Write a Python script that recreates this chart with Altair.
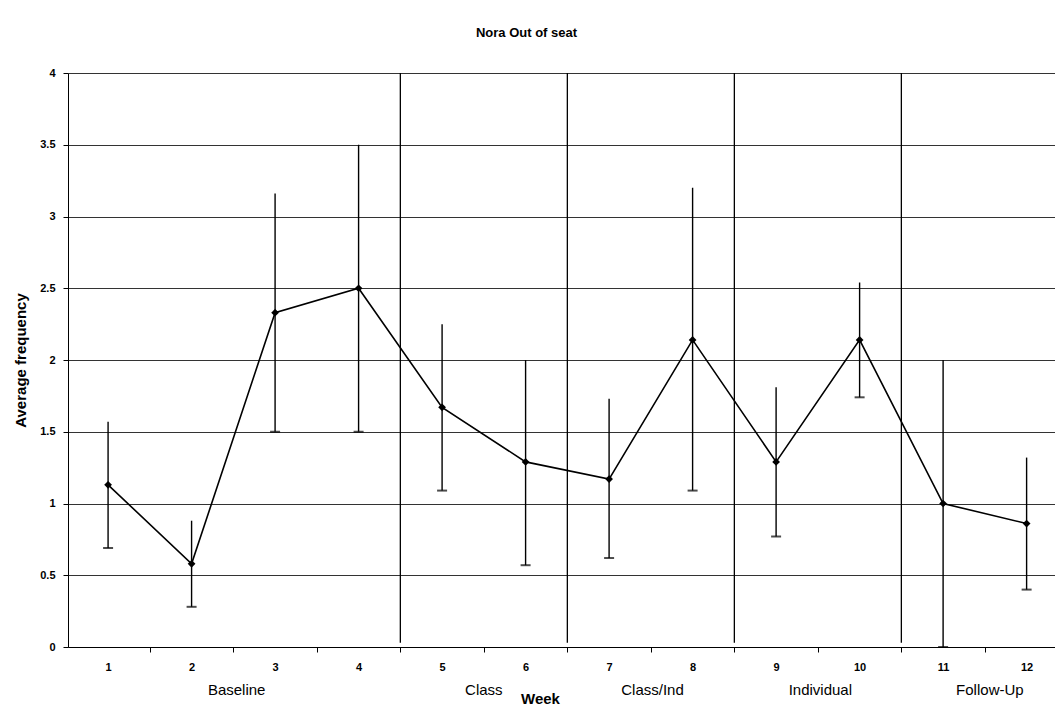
import altair as alt
import pandas as pd

weeks = list(range(1, 13))
means = [1.13, 0.58, 2.33, 2.5, 1.67, 1.29, 1.17, 2.14, 1.29, 2.14, 1.0, 0.86]
upper = [1.57, 0.88, 3.16, 3.5, 2.25, 2.0, 1.73, 3.2, 1.81, 2.54, 2.0, 1.32]
lower = [0.69, 0.28, 1.5, 1.5, 1.09, 0.57, 0.62, 1.09, 0.77, 1.74, 0.0, 0.40]
phase_names = ["Baseline", "Class", "Class/Ind", "Individual", "Follow-Up"]
phase_centers = [2.54, 5.5, 7.52, 9.53, 11.56]
phase_bounds = [4.5, 6.5, 8.5, 10.5]
x_values = [v / 2 for v in range(2, 25)]
y_values = [v / 2 for v in range(0, 9)]

df = pd.DataFrame({"week": weeks, "mean": means, "upper": upper, "lower": lower})
phases = pd.DataFrame({"name": phase_names, "x": phase_centers})
bounds = pd.DataFrame({"x": phase_bounds, "top": [4.0] * 4, "bottom": [0.03] * 4})

W, H = 987, 574
FONT = "Liberation Sans"

xscale = alt.Scale(domain=[0.52, 12.34], nice=False, zero=False)
yscale = alt.Scale(domain=[0, 4], nice=False)

xaxis = alt.Axis(
    values=x_values,
    labelExpr="datum.value % 1 == 0 ? format(datum.value, 'd') : ''",
    tickOpacity={"expr": "datum.value % 1 == 0 ? 0 : 1"},
    grid=False, domainColor="black", tickColor="black", tickSize=5,
    labelFont=FONT, labelFontSize=11, labelFontWeight="bold",
    labelColor="black", labelPadding=9,
    labelFlush=False, labelOverlap=False,
    title="Week", titleFont=FONT, titleFontSize=15, titleFontWeight="bold",
    titleColor="black", titleX=472, titleY=56, titleBaseline="alphabetic",
    titleAlign="center",
)
yaxis = alt.Axis(
    values=y_values, format="~g",
    grid=True, gridColor="black", gridWidth=1, gridOpacity=0.8,
    domainColor="black", tickColor="black", tickSize=5,
    labelFont=FONT, labelFontSize=11, labelFontWeight="bold",
    labelColor="black", labelPadding=8,
    title="Average frequency", titleFont=FONT, titleFontSize=15,
    titleFontWeight="bold", titleColor="black", titlePadding=11,
)

base = alt.Chart(df)

lines_phase = alt.Chart(bounds).mark_rule(color="black", strokeWidth=1.3).encode(
    x=alt.X("x:Q", scale=xscale, axis=xaxis),
    y=alt.Y("top:Q", scale=yscale, axis=yaxis),
    y2="bottom:Q",
)

err = base.mark_rule(color="black", strokeWidth=1.4).encode(
    x=alt.X("week:Q", scale=xscale),
    y=alt.Y("upper:Q", scale=yscale),
    y2="lower:Q",
)
cap = base.mark_tick(color="black", orient="horizontal", size=10, thickness=2).encode(
    x=alt.X("week:Q", scale=xscale),
    y=alt.Y("lower:Q", scale=yscale),
)
line = base.mark_line(color="black", strokeWidth=1.6).encode(
    x=alt.X("week:Q", scale=xscale),
    y=alt.Y("mean:Q", scale=yscale),
)
pts = base.mark_point(shape="diamond", filled=True, size=60, color="black", opacity=1).encode(
    x=alt.X("week:Q", scale=xscale),
    y=alt.Y("mean:Q", scale=yscale),
)
labels = alt.Chart(phases).mark_text(
    font=FONT, fontSize=15, color="black", baseline="middle", align="center"
).encode(
    x=alt.X("x:Q", scale=xscale),
    y=alt.value(617),
    text="name:N",
)

chart = alt.layer(lines_phase, err, cap, line, pts, labels).properties(
    width=W, height=H,
    title=alt.TitleParams("Nora Out of seat", font=FONT, fontSize=13,
                          fontWeight="bold", color="black", offset=27, dx=-35),
    padding={"left": 5, "top": 19, "right": 0, "bottom": 0},
).configure_view(stroke=None)

chart.save("out.html", embed_options={"renderer": "svg", "actions": False})
